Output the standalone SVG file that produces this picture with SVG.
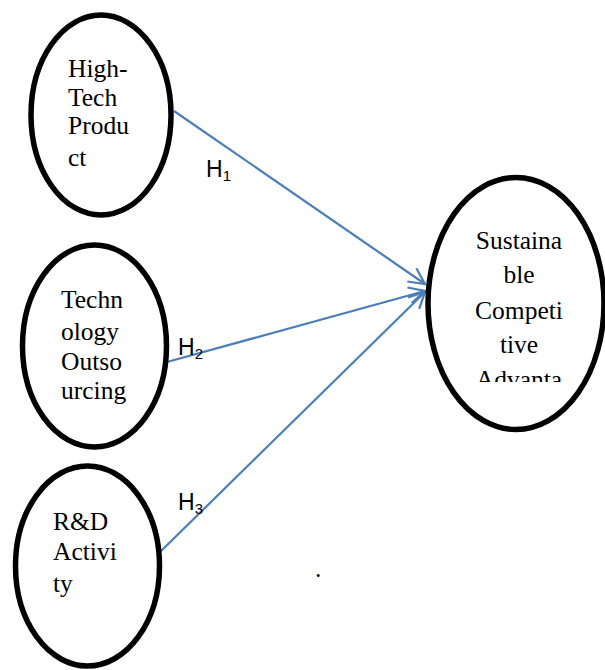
<svg xmlns="http://www.w3.org/2000/svg" width="605" height="670" viewBox="0 0 605 670">
<style>
.node ellipse{fill:#fff;stroke:#000;stroke-width:5.5}
.nt{font-family:"Liberation Serif","Times New Roman",serif;font-size:25.5px;fill:#000}
.h{font-family:"Liberation Sans",Arial,sans-serif;font-size:23px;fill:#000}
.sub{font-size:15px}
.conn line{stroke:#4A7EBB;stroke-width:2.2;fill:none}
</style>
<defs>
<marker id="arr" viewBox="0 0 20 20" refX="18" refY="10" markerWidth="20" markerHeight="20" markerUnits="userSpaceOnUse" orient="auto">
<path d="M2,2 L18,10 L2,18" fill="none" stroke="#4A7EBB" stroke-width="2.2"/>
</marker>
<clipPath id="clip4"><rect x="420" y="170" width="185" height="212"/></clipPath>
</defs>
<rect width="605" height="670" fill="#fff"/>
<g class="conn">
<line x1="174" y1="111" x2="425" y2="284" marker-end="url(#arr)"/>
<line x1="167" y1="362" x2="425" y2="291" marker-end="url(#arr)"/>
<line x1="160" y1="552" x2="425" y2="292" marker-end="url(#arr)"/>
</g>
<g id="n1" class="node">
<ellipse cx="101" cy="115" rx="70" ry="100"/>
<text class="nt" x="68" y="77">High-</text>
<text class="nt" x="68" y="106">Tech</text>
<text class="nt" x="68" y="134">Produ</text>
<text class="nt" x="68" y="166">ct</text>
</g>
<g id="n2" class="node">
<ellipse cx="94.5" cy="346" rx="72" ry="101"/>
<text class="nt" x="61" y="308">Techn</text>
<text class="nt" x="61" y="340">ology</text>
<text class="nt" x="61" y="370">Outso</text>
<text class="nt" x="61" y="399">urcing</text>
</g>
<g id="n3" class="node">
<ellipse cx="87.5" cy="566" rx="72" ry="100"/>
<text class="nt" x="53" y="530">R&amp;D</text>
<text class="nt" x="53" y="560">Activi</text>
<text class="nt" x="53" y="592">ty</text>
</g>
<g id="n4" class="node">
<ellipse cx="516" cy="303.5" rx="88" ry="126"/>
<g clip-path="url(#clip4)">
<text class="nt" x="519" y="249" text-anchor="middle">Sustaina</text>
<text class="nt" x="519" y="283" text-anchor="middle">ble</text>
<text class="nt" x="519" y="319" text-anchor="middle">Competi</text>
<text class="nt" x="519" y="353" text-anchor="middle">tive</text>
<text class="nt" x="519" y="388" text-anchor="middle">Advanta</text>
</g>
</g>
<g id="labels">
<text class="h" x="206" y="177">H<tspan class="sub" dy="4">1</tspan></text>
<text class="h" x="178" y="355">H<tspan class="sub" dy="4">2</tspan></text>
<text class="h" x="178" y="510">H<tspan class="sub" dy="4">3</tspan></text>
<text class="nt" x="315" y="577">.</text>
</g>
</svg>
